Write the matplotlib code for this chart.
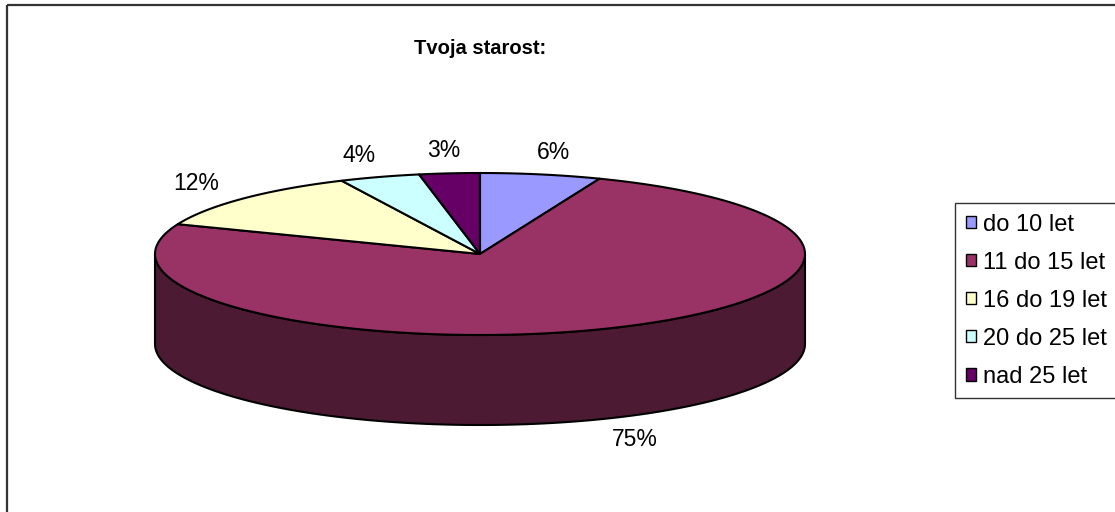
"""Excel-style 3-D pie: "Tvoja starost:" (age distribution)."""

import numpy as np
import matplotlib

matplotlib.use("Agg")
import matplotlib.pyplot as plt  # noqa: E402
from matplotlib.patches import Patch, Polygon, Rectangle  # noqa: E402

plt.rcParams["font.family"] = ["Liberation Sans", "DejaVu Sans"]

# --- data -------------------------------------------------------------------
categories = ["do 10 let", "11 do 15 let", "16 do 19 let", "20 do 25 let", "nad 25 let"]
values = [6, 75, 12, 4, 3]
top_colors = ["#9999FF", "#993366", "#FFFFCC", "#CCFFFF", "#660066"]
side_colors = ["#4C4C80", "#4C1A33", "#808066", "#668080", "#330033"]
title = "Tvoja starost:"

# --- geometry (pixel space, y down) ------------------------------------------
W, H = 1115, 512
CX, CY = 480, 254
RX, RY = 325, 81
DEPTH = 90
EDGE = dict(edgecolor="black", linewidth=1.5, joinstyle="round")


def ellipse_pts(t1, t2, dy=0.0, n=200):
    t = np.radians(np.linspace(t1, t2, n))
    return np.column_stack([CX + RX * np.sin(t), CY - RY * np.cos(t) + dy])


fig = plt.figure(figsize=(W / 100, H / 100), dpi=100)
ax = fig.add_axes([0, 0, 1, 1])
ax.set_xlim(0, W)
ax.set_ylim(H, 0)
ax.axis("off")

# chart border (runs off the right and bottom edges)
ax.add_patch(Rectangle((7, 5), W + 20, H + 20, fill=False,
                       edgecolor="#333333", linewidth=1.6, clip_on=True))

total = float(sum(values))
bounds = np.concatenate([[0], np.cumsum(values)]) / total * 360.0

# side walls: only the front half (90..270 deg, clockwise from 12 o'clock)
for (t1, t2), col in zip(zip(bounds[:-1], bounds[1:]), side_colors):
    s1, s2 = max(t1, 90.0), min(t2, 270.0)
    if s2 <= s1:
        continue
    top = ellipse_pts(s1, s2)
    bot = ellipse_pts(s1, s2, dy=DEPTH)[::-1]
    ax.add_patch(Polygon(np.vstack([top, bot]), closed=True, facecolor=col, **EDGE))

# top faces
for (t1, t2), col in zip(zip(bounds[:-1], bounds[1:]), top_colors):
    pts = np.vstack([[CX, CY], ellipse_pts(t1, t2)])
    ax.add_patch(Polygon(pts, closed=True, facecolor=col, **EDGE))

# percentage labels
for (t1, t2), v in zip(zip(bounds[:-1], bounds[1:]), values):
    m = np.radians((t1 + t2) / 2)
    lx = CX + 1.2 * RX * np.sin(m)
    ly = CY - 1.28 * RY * np.cos(m) + (DEPTH if np.cos(m) < 0 else 0)
    ax.text(lx, ly, f"{v / total * 100:.0f}%", ha="center", va="center",
            fontsize=16.5, color="black")

ax.text(CX, 48, title, ha="center", va="center", fontsize=14.5, fontweight="bold")

handles = [Patch(facecolor=c, edgecolor="black", linewidth=1.0) for c in top_colors]
leg = fig.legend(handles, categories, loc="upper left",
                 bbox_to_anchor=(955 / W, 1 - 203 / H), frameon=True, fancybox=False,
                 edgecolor="black", fontsize=17, handlelength=0.42, handleheight=0.42,
                 handletextpad=0.33, labelspacing=0.68, borderpad=0.45, borderaxespad=0)
leg.get_frame().set_linewidth(1.0)

fig.savefig("out.png", dpi=100)
